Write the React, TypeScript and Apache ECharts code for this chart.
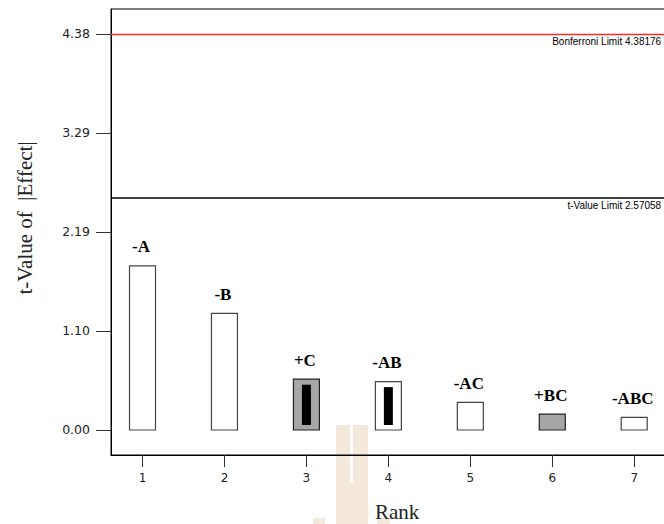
import React, { useEffect, useRef } from "react";
import * as echarts from "echarts";

const ranks = [1, 2, 3, 4, 5, 6, 7];
const tValues = [1.815, 1.29, 0.562, 0.535, 0.305, 0.175, 0.14];
const effectLabels = ["-A", "-B", "+C", "-AB", "-AC", "+BC", "-ABC"];
const positive = [false, false, true, false, false, true, false];
const marked = [false, false, true, true, false, false, false];
const bonferroniLimit = 4.38176;
const tValueLimit = 2.57058;
const yTicks = [0, 1.09544, 2.19088, 3.28632, 4.38176];
const xTicks = [1, 2, 3, 4, 5, 6, 7];

const X_MIN = 0.6156;
const X_MAX = 7.6;
const Y_MIN = -0.2766;
const Y_MAX = 4.6576;
const LIMIT_END = 7.365;

export default function App() {
  const ref = useRef<HTMLDivElement>(null);
  useEffect(() => {
    if (!ref.current) return;
    const chart = echarts.init(ref.current, null, { renderer: "svg" });
    const data = ranks.map((r, i) => [r, tValues[i], i]);
    chart.setOption({
      animation: false,
      backgroundColor: "#ffffff",
      grid: {
        left: 111,
        top: 9,
        width: 572.4,
        height: 446,
        show: true,
        borderColor: "#000",
        borderWidth: 1,
        backgroundColor: "transparent",
        containLabel: false,
        outerBoundsMode: "none",
      },
      graphic: [
        { type: "rect", z: -10, silent: true, shape: { x: 336, y: 425, width: 14, height: 99 }, style: { fill: "#f3eadb" } },
        { type: "rect", z: -10, silent: true, shape: { x: 353, y: 425, width: 15, height: 99 }, style: { fill: "#f3eadb" } },
        { type: "rect", z: -10, silent: true, shape: { x: 350, y: 483, width: 3, height: 41 }, style: { fill: "#f3eadb" } },
        { type: "rect", z: -10, silent: true, shape: { x: 313, y: 518, width: 12, height: 6 }, style: { fill: "#f3eadb" } },
        { type: "rect", z: -10, silent: true, shape: { x: 377, y: 518, width: 13, height: 6 }, style: { fill: "#f3eadb" } },
        {
          type: "text",
          x: 25,
          y: 218,
          rotation: Math.PI / 2,
          style: {
            text: "t-Value of\u00a0 |Effect|",
            font: '21px "Liberation Serif"',
            fill: "#222",
            align: "center",
            verticalAlign: "middle",
          },
        },
      ],
      xAxis: {
        type: "value",
        min: X_MIN,
        max: X_MAX,
        name: "Rank",
        nameLocation: "middle",
        nameGap: 46,
        nameTextStyle: { fontFamily: "Liberation Serif", fontSize: 21, color: "#222" },
        axisLine: { show: true, onZero: false, lineStyle: { color: "#000", width: 1 } },
        axisTick: { show: true, customValues: xTicks, length: 12, lineStyle: { color: "#333" } },
        axisLabel: {
          customValues: xTicks,
          margin: 17,
          fontFamily: "DejaVu Sans",
          fontSize: 12,
          color: "#222",
          formatter: (v: number) => String(Math.round(v)),
        },
        splitLine: { show: false },
      },
      yAxis: {
        type: "value",
        min: Y_MIN,
        max: Y_MAX,
        axisLine: { show: true, onZero: false, lineStyle: { color: "#000", width: 1 } },
        axisTick: { show: true, customValues: yTicks, length: 15, lineStyle: { color: "#333" } },
        axisLabel: {
          customValues: yTicks,
          margin: 21,
          fontFamily: "DejaVu Sans",
          fontSize: 12.5,
          color: "#222",
          formatter: (v: number) => v.toFixed(2),
        },
        splitLine: { show: false },
      },
      series: [
        {
          type: "custom",
          data,
          clip: false,
          renderItem: (params: any, api: any) => {
            const i = api.value(2);
            const x = api.value(0);
            const v = api.value(1);
            const top = api.coord([x, v]);
            const base = api.coord([x, 0]);
            const bw = 26;
            const h = base[1] - top[1];
            const children: any[] = [
              {
                type: "rect",
                shape: { x: top[0] - bw / 2, y: top[1], width: bw, height: h },
                style: {
                  fill: positive[i] ? "#a6a6a6" : "#ffffff",
                  stroke: positive[i] ? "#222" : "#444",
                  lineWidth: 1.2,
                },
              },
            ];
            if (marked[i]) {
              children.push({
                type: "rect",
                shape: { x: top[0] - 4.5, y: top[1] + 5.5, width: 9, height: h - 10.5 },
                style: { fill: "#000" },
              });
            }
            children.push({
              type: "text",
              x: top[0] - 1.5,
              y: top[1] - 19,
              style: {
                text: effectLabels[i],
                font: 'bold 17px "Liberation Serif"',
                fill: "#000",
                align: "center",
                verticalAlign: "middle",
              },
            });
            return { type: "group", children };
          },
          markLine: {
            silent: true,
            symbol: "none",
            animation: false,
            data: [
              [
                { coord: [X_MIN, bonferroniLimit], lineStyle: { color: "#ff2a2a", width: 1.3, type: "solid" } },
                { coord: [LIMIT_END, bonferroniLimit] },
              ],
              [
                { coord: [X_MIN, tValueLimit], lineStyle: { color: "#000", width: 1.5, type: "solid" } },
                { coord: [LIMIT_END, tValueLimit] },
              ],
            ],
            label: {
              show: true,
              position: "insideEndBottom",
              distance: 3,
              fontFamily: "Liberation Sans",
              fontSize: 10,
              color: "#000",
              formatter: (p: any) =>
                p.dataIndex === 0
                  ? "Bonferroni Limit " + bonferroniLimit.toFixed(5)
                  : "t-Value Limit " + tValueLimit.toFixed(5),
            },
          },
        },
      ],
    });
    return () => chart.dispose();
  }, []);
  return (
    <div
      ref={ref}
      style={{ position: "fixed", left: 0, top: 0, width: 664, height: 524, background: "#fff" }}
    />
  );
}
